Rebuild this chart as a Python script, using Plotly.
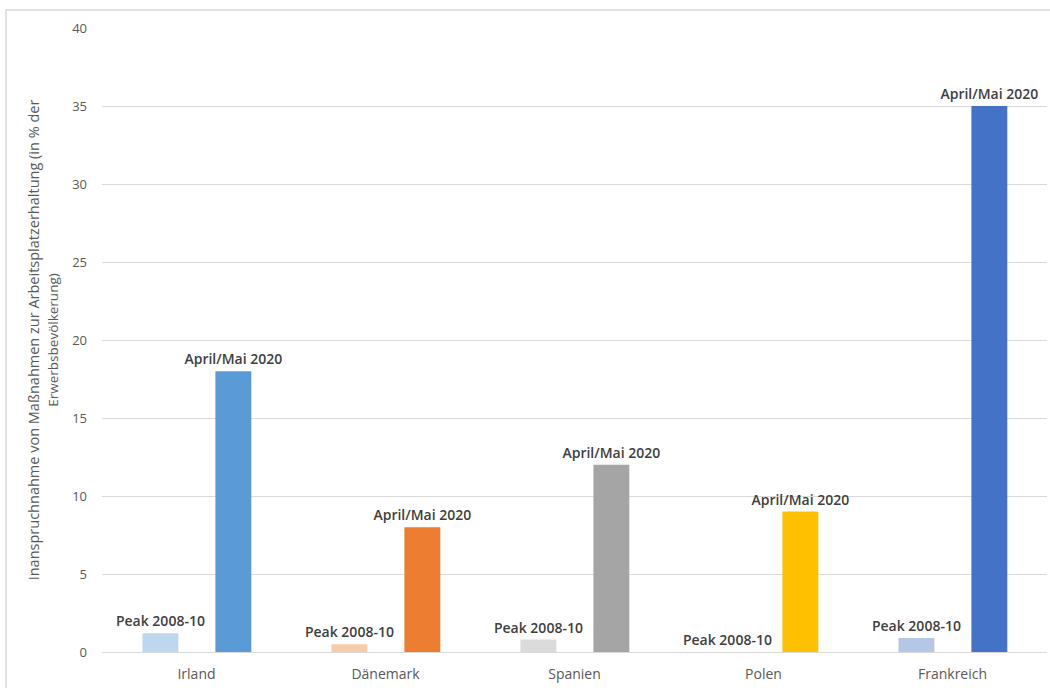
import plotly.graph_objects as go

categories = ["Irland", "Dänemark", "Spanien", "Polen", "Frankreich"]
peak_values = [1.2, 0.5, 0.8, 0.0, 0.9]
april_values = [18, 8, 12, 9, 35]
peak_colors = ["#BDD7EE", "#F8CBAD", "#DBDBDB", "#FFE699", "#B4C7E7"]
april_colors = ["#5B9BD5", "#ED7D31", "#A5A5A5", "#FFC000", "#4472C4"]
peak_label = "Peak 2008-10"
april_label = "April/Mai 2020"
y_ticks = [0, 5, 10, 15, 20, 25, 30, 35, 40]

label_font = dict(family="Open Sans, Lato, sans-serif", size=14, color="#404040", weight=600)

fig = go.Figure()
fig.add_trace(go.Bar(
    x=categories, y=peak_values, marker=dict(color=peak_colors, line=dict(width=0)),
    width=0.19, offset=-0.286, text=[peak_label] * len(categories),
    textposition="outside", textfont=label_font, constraintext="none",
    cliponaxis=False, showlegend=False, hoverinfo="x+y"))
fig.add_trace(go.Bar(
    x=categories, y=april_values, marker=dict(color=april_colors, line=dict(width=0)),
    width=0.19, offset=0.1, text=[april_label] * len(categories),
    textposition="outside", textfont=label_font, constraintext="none",
    cliponaxis=False, showlegend=False, hoverinfo="x+y"))

fig.update_layout(
    width=1050, height=688,
    margin=dict(l=102, r=3, t=28, b=36),
    paper_bgcolor="white", plot_bgcolor="white",
    barmode="overlay",
    font=dict(family="Open Sans, Lato, sans-serif", color="#595959", size=13),
    xaxis=dict(showgrid=False, showline=True, linecolor="#D9D9D9", linewidth=1,
               ticks="", tickfont=dict(size=14, color="#595959"), ticklabelstandoff=9),
    yaxis=dict(range=[0, 40], tickvals=y_ticks, showgrid=True, gridcolor="#D9D9D9",
               gridwidth=1, zeroline=False, showline=False, ticks="",
               tickfont=dict(size=13, color="#595959"), ticklabelstandoff=14,
               title=dict(text="Inanspruchnahme von Maßnahmen zur Arbeitsplatzerhaltung (in % der<br>"
                               "<span style='font-size:13.5px'>Erwerbsbevölkerung)</span>",
                          font=dict(size=14.5, color="#595959"), standoff=10)),
    shapes=[dict(type="rect", xref="paper", yref="paper",
                 x0=-0.1016, x1=1.1, y0=-0.2, y1=1.0288,
                 line=dict(color="#D9D9D9", width=1.5), fillcolor="rgba(0,0,0,0)", layer="below")],
)

fig.write_html("out.html")
